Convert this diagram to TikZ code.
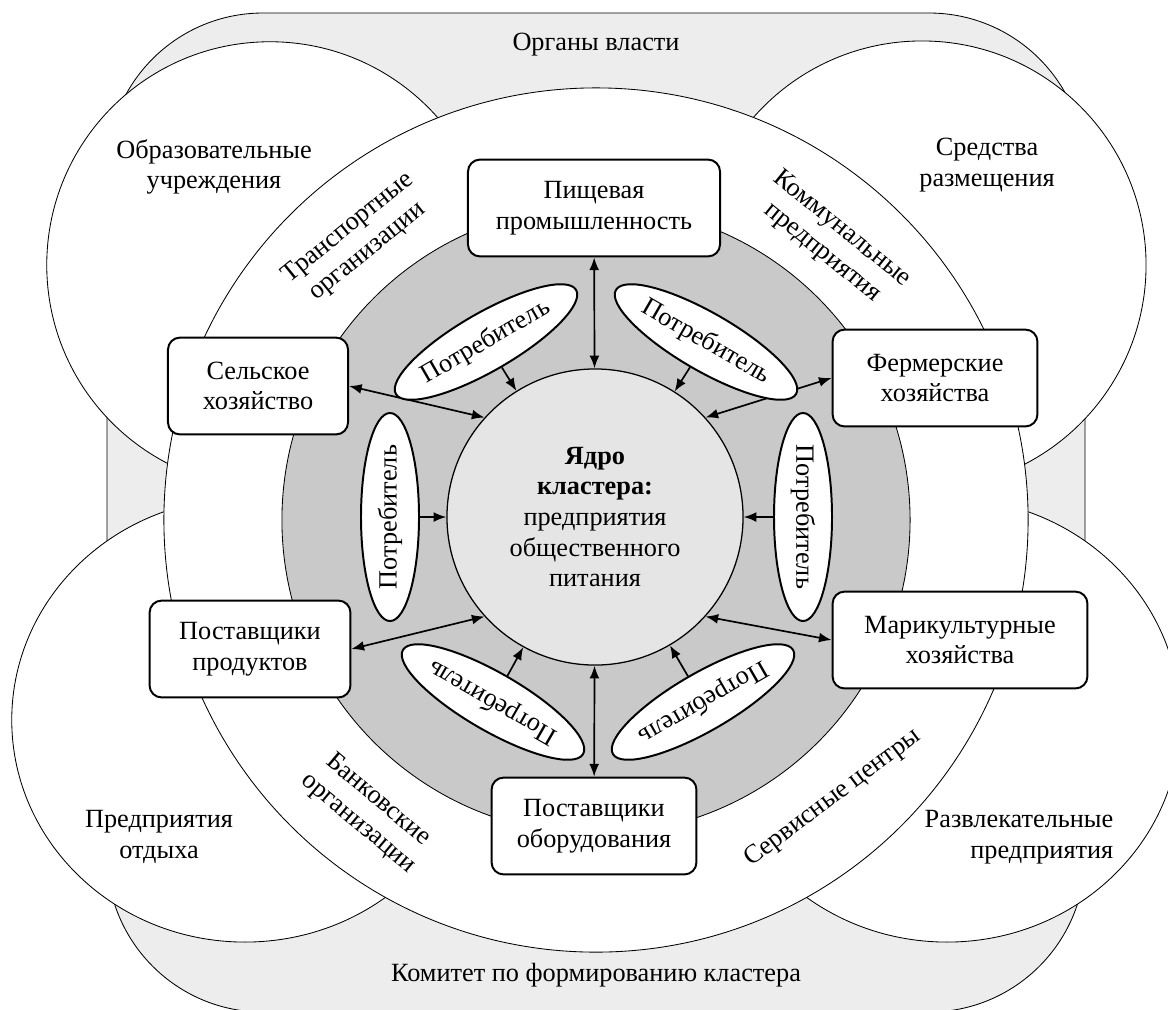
\documentclass[tikz,border=0pt]{standalone}
\usepackage{fontspec}
\setmainfont{Liberation Serif}
\usetikzlibrary{calc, positioning, arrows.meta, shapes.geometric}
\tikzset{
    zone/.style={draw=black, line width=0.6pt},
    zoneText/.style={align=center, inner sep=1pt},
    partner/.style={rectangle, draw=black, line width=1.4pt, fill=white, rounded corners=0.3cm, align=center, minimum height=2.42cm, inner sep=2pt},
    consumer/.style={ellipse, draw=black, line width=1.4pt, fill=white, minimum width=5.2cm, minimum height=1.45cm, inner sep=0pt},
    kernel/.style={circle, draw=black, line width=0.9pt, fill=black!10, minimum size=7.4cm, inner sep=0pt, align=center},
    arrow/.style={-{Latex[length=9pt, width=7pt]}, line width=1.2pt},
    biarrow/.style={{Latex[length=9pt, width=7pt]}-{Latex[length=9pt, width=7pt]}, line width=1.2pt}
}

\begin{document}
\begin{tikzpicture}[x=0.025cm, y=-0.025cm, font=\fontsize{18.7}{21.8}\selectfont]
    \useasboundingbox (0,0) rectangle (1168,1009);

    % Environment
    \draw[zone, fill=black!7, rounded corners=3.9cm] (107,13) rectangle (1085,1012);
    \draw[zone, fill=white] (270,265) circle[radius=5.58cm];
    \draw[zone, fill=white] (922,265) circle[radius=5.6cm];
    \draw[zone, fill=white] (245,720) ellipse[x radius=5.83cm, y radius=5.55cm];
    \draw[zone, fill=white] (947,720) ellipse[x radius=5.83cm, y radius=5.55cm];

    % Cluster rings
    \draw[zone, fill=white] (596,520) circle[radius=10.8cm];
    \draw[zone, fill=black!21] (596,520) circle[radius=7.85cm];
    \node[kernel] (core) at (595,517) {\textbf{Ядро}\\\textbf{кластера:}\\предприятия\\общественного\\питания};

    % Environment labels
    \node[zoneText] (power) at (596,45) {Органы власти};
    \node[zoneText] (committee) at (596,975) {Комитет по формированию кластера};
    \node[zoneText] (edu) at (214,167) {Образовательные\\учреждения};
    \node[zoneText] (hotel) at (987,165) {Средства\\размещения};
    \node[zoneText] (rest) at (159,837) {Предприятия\\отдыха};
    \node[zoneText, align=right] (fun) at (1019,837) {Развлекательные\\предприятия};
    \node[zoneText, rotate=39] (transport) at (358,240) {Транспортные\\организации};
    \node[zoneText, rotate=-39] (utility) at (832,241) {Коммунальные\\предприятия};
    \node[zoneText, rotate=-40] (bank) at (368,812) {Банковские\\организации};
    \node[zoneText, rotate=37] (service) at (833,798) {Сервисные центры};

    % Partners
    \node[partner, minimum width=6.3cm] (food) at (594,208) {Пищевая\\промышленность};
    \node[partner, minimum width=4.5cm] (agri) at (258,386) {Сельское\\хозяйство};
    \node[partner, minimum width=5.12cm] (farm) at (935,378) {Фермерские\\хозяйства};
    \node[partner, minimum width=5.02cm] (goods) at (250,649) {Поставщики\\продуктов};
    \node[partner, minimum width=6.37cm] (mari) at (960,640) {Марикультурные\\хозяйства};
    \node[partner, minimum width=5.12cm] (equip) at (594,826) {Поставщики\\оборудования};

    \draw[biarrow] (food) -- (core);
    \draw[biarrow] (agri.east) -- (core.138);
    \draw[biarrow] (farm.west) -- (core.42);
    \draw[biarrow] (goods.east) -- (core.222);
    \draw[biarrow] (mari.west) -- (core.318);
    \draw[biarrow] (core) -- (equip);

    % Consumers
    \foreach \name/\x/\y/\rot in {c1/486/342/30, c2/706/342/-30, c3/390/517/90, c4/803/517/-90, c5/493/702/150, c6/703/702/210} {
        \node[consumer, rotate=\rot] (\name) at (\x,\y) {Потребитель};
        \draw[arrow] (\name) -- (core);
    }
\end{tikzpicture}
\end{document}
